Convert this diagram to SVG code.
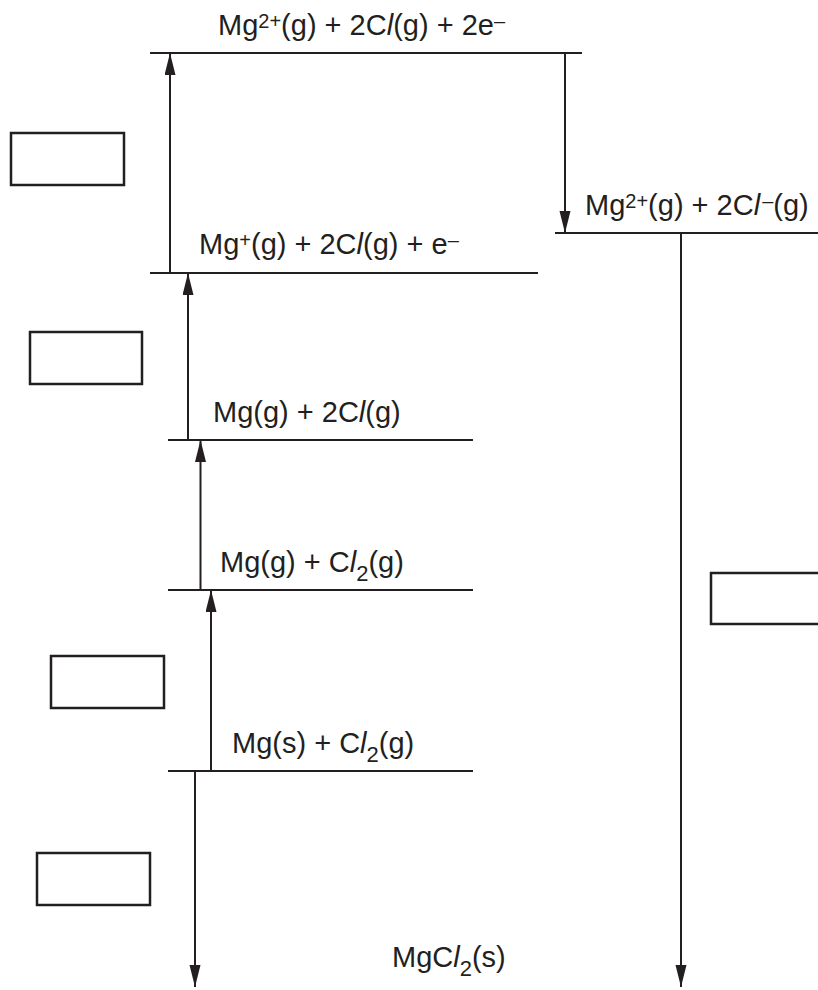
<svg xmlns="http://www.w3.org/2000/svg" width="818" height="990" viewBox="0 0 818 990">
<style>
.ln{stroke:#231f20;stroke-width:2;fill:none}
.ar{stroke:#231f20;stroke-width:2;fill:none;marker-end:url(#ah)}
.bx{stroke:#231f20;stroke-width:2.5;fill:#fff}
text{font-family:"Liberation Sans",Arial,sans-serif;font-size:29px;fill:#231f20}
.sup{font-size:20px;baseline-shift:35%}
.sub{font-size:22px;baseline-shift:-9px}
.it{font-style:italic}
</style>
<defs>
<marker id="ah" markerUnits="userSpaceOnUse" markerWidth="22" markerHeight="12" refX="22" refY="5.5" orient="auto">
<path d="M0,0 L22,5.5 L0,11 Z" fill="#231f20"/>
</marker>
</defs>
<rect width="818" height="990" fill="#fff"/>
<g id="level-mg2-cl-2e">
<line class="ln" x1="150" y1="53" x2="582" y2="53"/>
<text x="218" y="35">Mg<tspan class="sup">2+</tspan>(g) + 2C<tspan class="it">l</tspan>(g) + 2e<tspan class="sup">–</tspan></text>
</g>
<g id="level-mg2-clminus">
<line class="ln" x1="555" y1="233" x2="818" y2="233"/>
<text x="585" y="215">Mg<tspan class="sup">2+</tspan>(g) + 2C<tspan class="it">l</tspan><tspan class="sup" dx="2">–</tspan>(g)</text>
</g>
<g id="level-mgplus">
<line class="ln" x1="150" y1="273" x2="538" y2="273"/>
<text x="199" y="254">Mg<tspan class="sup">+</tspan>(g) + 2C<tspan class="it">l</tspan>(g) + e<tspan class="sup">–</tspan></text>
</g>
<g id="level-mg-2cl">
<line class="ln" x1="168" y1="440" x2="473" y2="440"/>
<text x="213" y="422">Mg(g) + 2C<tspan class="it">l</tspan>(g)</text>
</g>
<g id="level-mg-cl2">
<line class="ln" x1="168" y1="590" x2="473" y2="590"/>
<text x="220" y="572">Mg(g) + C<tspan class="it">l</tspan><tspan class="sub">2</tspan>(g)</text>
</g>
<g id="level-mgs-cl2">
<line class="ln" x1="168" y1="771" x2="473" y2="771"/>
<text x="232" y="753">Mg(s) + C<tspan class="it">l</tspan><tspan class="sub">2</tspan>(g)</text>
</g>
<g id="level-mgcl2">
<text x="392" y="967">MgC<tspan class="it">l</tspan><tspan class="sub">2</tspan>(s)</text>
</g>
<g id="box-1"><rect class="bx" x="11" y="133" width="113" height="52"/></g>
<g id="box-2"><rect class="bx" x="30" y="332" width="112" height="52"/></g>
<g id="box-3"><rect class="bx" x="51" y="656" width="113" height="52"/></g>
<g id="box-4"><rect class="bx" x="37" y="853" width="113" height="52"/></g>
<g id="box-5"><rect class="bx" x="711" y="573" width="120" height="51"/></g>
<g id="connectors">
<line class="ar" x1="170" y1="273" x2="170" y2="53"/>
<line class="ar" x1="565" y1="53" x2="565" y2="233"/>
<line class="ar" x1="188" y1="440" x2="188" y2="273"/>
<line class="ar" x1="200.5" y1="590" x2="200.5" y2="440"/>
<line class="ar" x1="211" y1="771" x2="211" y2="590"/>
<line class="ar" x1="195" y1="771" x2="195" y2="987"/>
<line class="ar" x1="681" y1="233" x2="681" y2="987"/>
</g>
</svg>
